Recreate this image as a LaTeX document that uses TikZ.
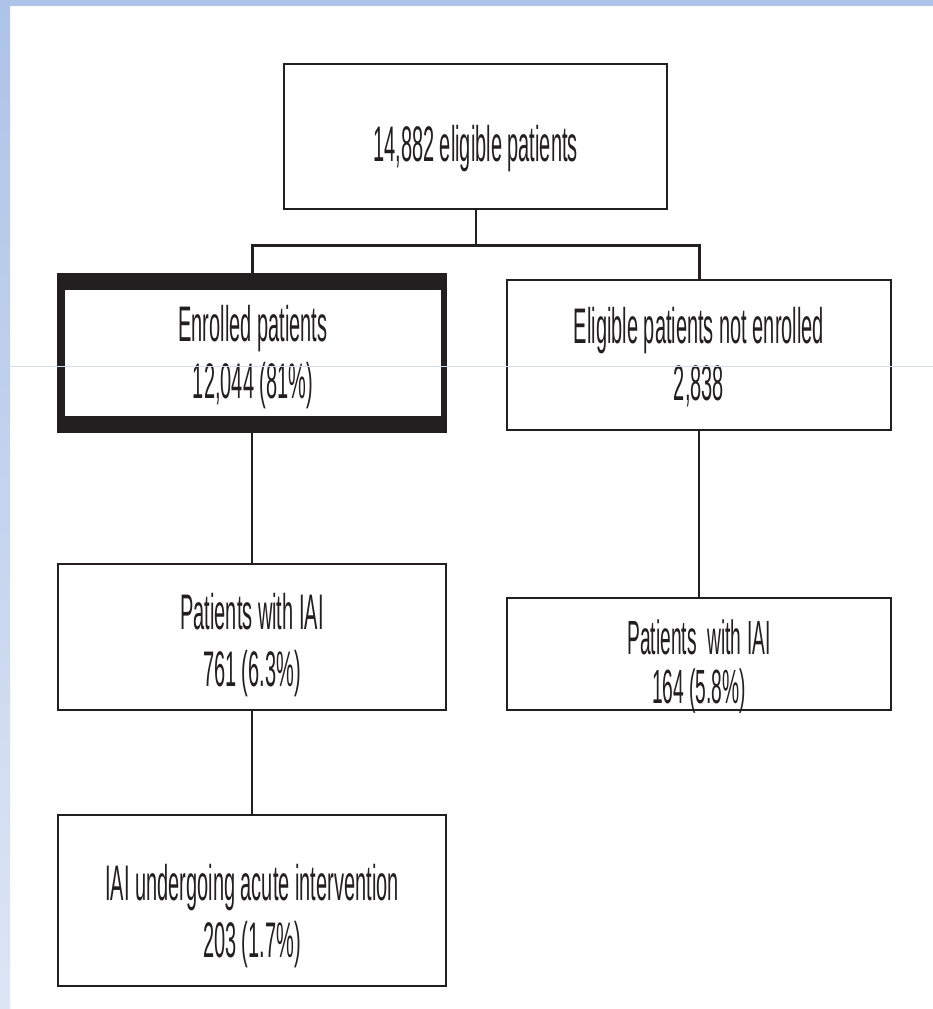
\documentclass[tikz,border=0pt]{standalone}
\usepackage{fontspec}
\setmainfont{Liberation Sans}[FakeStretch=0.40]
\definecolor{ink}{HTML}{231F20}
\definecolor{bandtop}{HTML}{ADC3E8}
\definecolor{bandbot}{HTML}{DDE6F5}
\definecolor{faint}{HTML}{D3DDF1}
\begin{document}
\begin{tikzpicture}[x=1pt,y=-1pt,
  box/.style={draw=ink, line width=2.2pt, fill=white, inner sep=0pt, outer sep=0pt},
  txt/.style={text=ink, align=center, font=\fontsize{50}{57}\selectfont},
  link/.style={draw=ink, line width=2pt}]
\useasboundingbox (0,0) rectangle (933,1009);
\fill[white] (0,0) rectangle (933,1009);
\shade[top color=bandtop, bottom color=bandbot] (0,0) rectangle (10,1009);
\fill[bandtop] (0,0) rectangle (933,6);

% boxes
\node[box, minimum width=383pt, minimum height=145pt] (top) at (475.5,136.5) {};
\node[txt] at (475.5,149) {14,882 eligible patients};

\node[fill=ink, inner sep=0pt, outer sep=0pt, minimum width=390pt, minimum height=160pt] (enr) at (252,353) {};
\node[fill=white, inner sep=0pt, minimum width=376pt, minimum height=126pt] (enrin) at (253,353) {};
\node[txt] at (253,357) {Enrolled patients\\12,044 (81\%)};

\node[box, minimum width=384pt, minimum height=150pt] (ne) at (699,355) {};
\node[txt] at (699,357) {Eligible patients not enrolled\\2,838};

\node[box, minimum width=388pt, minimum height=146pt] (iail) at (252,637) {};
\node[txt] at (252,645) {Patients with IAI\\761 (6.3\%)};

\node[box, minimum width=384pt, minimum height=112pt] (iair) at (699,654) {};
\node[txt, font=\fontsize{48}{49}\selectfont] at (699,667) {Patients~ with IAI\\164 (5.8\%)};

\node[box, minimum width=388pt, minimum height=171pt] (acute) at (252,900.5) {};
\node[txt] at (252,916) {IAI undergoing acute intervention\\203 (1.7\%)};

% connectors
\coordinate (split) at (475.5,245);
\draw[link] (top.south) -- (split);
\draw[link, line width=3pt] (enr.north) |- (split);
\draw[link, line width=3pt] (ne.north) |- (split);
\draw[link] (enr.south) -- (iail.north);
\draw[link] (ne.south) -- (iair.north);
\draw[link] (iail.south) -- (acute.north);

% faint guide line
\draw[faint, line width=1pt] (10,366) -- (933,366);
\end{tikzpicture}
\end{document}
